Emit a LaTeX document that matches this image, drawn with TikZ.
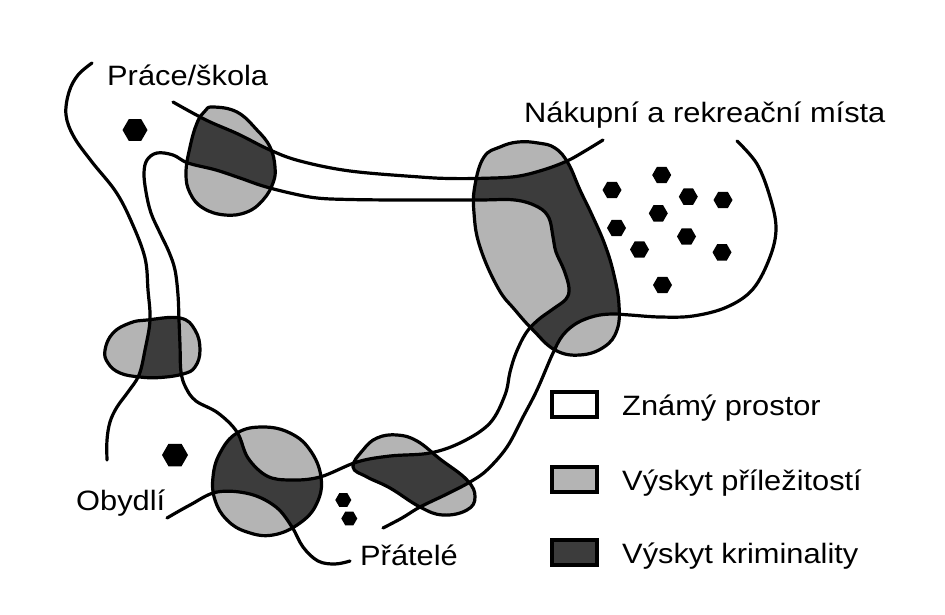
\documentclass[tikz,border=0pt]{standalone}
\usepackage{fontspec}
\setmainfont{Liberation Sans}[FakeStretch=1.1]
\usetikzlibrary{shapes.geometric}
\definecolor{lightg}{RGB}{180,180,180}
\definecolor{darkg}{RGB}{60,60,60}
% lines
\def\Lone{plot[smooth,tension=0.6] coordinates {(603,140) (585,151) (567,161) (543,170) (516,176.5) (483,178.3) (450,178.5) (420,177) (350,171) (300,161) (270,150) (238,134) (206,120) (173,102)}}
\def\Ltwo{plot[smooth cycle,tension=0.6] coordinates {(157,153) (173,155) (188,163) (216,170) (240,178) (263,186) (290,193) (317,198) (350,199.5) (400,200) (477,200) (515,200) (538,207) (549,218) (553,237) (556,252) (564,270) (569,288) (566,299) (553,309) (538,320) (526,333) (516,353) (510,372) (505,395) (490,423) (462,442) (430,453) (390,456) (357,462) (320,477) (290,480) (267,476) (248,458) (237,432) (218,413) (196,401) (186,388) (181,372) (180,345) (179,320) (178,295) (175,270) (169,252) (160,233) (151,213) (146,192) (144,173) (147,160)}}
\def\Lthree{plot[smooth,tension=0.6] coordinates {(383,528) (402,518) (420,507) (447,494) (470,482) (487,470) (507,447) (523,417) (537,390) (553,353) (563,335) (577,323) (595,316) (612,314) (630,315) (660,317) (693,316) (727,307) (753,289) (770,257) (776,228) (770,197) (757,164) (737,141)}}
\def\Lfour{plot[smooth,tension=0.6] coordinates {(92,63) (78,75) (69,92) (66,115) (74,137) (92,162) (116,192) (132,223) (145,258) (148,290) (150,320) (145,350) (139,375) (128,392) (117,407) (110,422) (107,440) (107,460)}}
\def\Lfive{plot[smooth,tension=0.6] coordinates {(167,518) (190,505) (217,492) (250,494) (276,507) (292,527) (303,547) (318,561) (335,564) (350,561)}}
\edef\Kouter{\Lfour -- \Lfive -- \Lthree -- \Lone -- cycle}
% blobs
\def\Pblob{plot[smooth cycle,tension=0.7] coordinates {(213,107) (237,112) (257,130) (270,147) (275,167) (273,183) (263,200) (247,212) (225,215) (203,208) (190,193) (186,173) (190,147) (197,123) (205,111)}}
\def\Nblob{plot[smooth cycle,tension=0.7] coordinates {(484,157) (500,147) (518,142) (538,143) (555,148) (568,163) (580,190) (592,215) (605,245) (614,275) (619,305) (617,330) (604,347) (580,355) (555,350) (533,330) (515,310) (498,288) (480,247) (474,213) (475,185)}}
\def\Eblob{plot[smooth cycle,tension=0.7] coordinates {(105,350) (113,333) (130,323) (147,320) (180,318) (195,330) (200,350) (195,367) (183,374) (160,377.5) (140,377) (120,373) (108,363)}}
\def\Hblob{plot[smooth cycle,tension=0.7] coordinates {(263,427) (290,433) (310,450) (321,477) (317,503) (300,523) (273,535) (247,532) (227,520) (215,500) (213,477) (220,453) (237,433)}}
\def\Fblob{plot[smooth cycle,tension=0.7] coordinates {(353,467) (363,450) (377,438) (397,435) (417,441) (440,459) (467,480) (475,497) (467,510) (443,515) (420,507) (390,488) (367,477)}}
\begin{document}
\begin{tikzpicture}[x=1pt,y=-1pt,
  trail/.style={line width=3.2pt, line cap=round, line join=round},
  hexa/.style={regular polygon, regular polygon sides=6, fill=black, inner sep=0pt, outer sep=0pt, minimum size=#1},
  hexa/.default=19,
  lbl/.style={anchor=base west, inner sep=0pt, font=\fontsize{28}{33}\selectfont},
  legbox/.style={draw, line width=3.2pt, minimum width=45pt, minimum height=25pt, inner sep=0pt},
]
\useasboundingbox (0,0) rectangle (945,614);
\fill[white] (0,0) rectangle (945,614);
% light fill of the regions
\fill[lightg] \Pblob;
\fill[lightg] \Nblob;
\fill[lightg] \Eblob;
\fill[lightg] \Hblob;
\fill[lightg] \Fblob;
% dark part: inside the known space
\begin{scope}
  \clip \Kouter;
  \fill[darkg] \Pblob;
  \fill[darkg] \Nblob;
  \fill[darkg] \Eblob;
  \fill[darkg] \Hblob;
  \fill[darkg] \Fblob;
\end{scope}
\begin{scope}
  \clip \Ltwo;
  \fill[lightg] \Pblob;
  \fill[lightg] \Nblob;
  \fill[lightg] \Eblob;
  \fill[lightg] \Hblob;
  \fill[lightg] \Fblob;
\end{scope}
% lines
\draw[trail] \Lone;
\draw[trail] \Ltwo;
\draw[trail] \Lthree;
\draw[trail] \Lfour;
\draw[trail] \Lfive;
% outlines
\draw[trail] \Pblob;
\draw[trail] \Nblob;
\draw[trail] \Eblob;
\draw[trail] \Hblob;
\draw[trail] \Fblob;
% hexagons
\node[hexa=25] (h1) at (135,130) {};
\node[hexa=26] (h2) at (175,455) {};
\node[hexa=16] (h3) at (343.3,500) {};
\node[hexa=16] (h4) at (349.3,518.5) {};
\node[hexa] (h5) at (661.7,175) {};
\node[hexa] (h6) at (612,190) {};
\node[hexa] (h7) at (688.3,196.7) {};
\node[hexa] (h8) at (723,200) {};
\node[hexa] (h9) at (658.3,213.3) {};
\node[hexa] (h10) at (616.5,228) {};
\node[hexa] (h11) at (686.5,236.5) {};
\node[hexa] (h12) at (639.5,249.5) {};
\node[hexa] (h13) at (722,252.3) {};
\node[hexa] (h14) at (662.5,285) {};
% labels
\node[lbl] (t1) at (107,85) {Práce/škola};
\node[lbl] (t2) at (524,122) {Nákupní a rekreační místa};
\node[lbl] (t3) at (76,510) {Obydlí};
\node[lbl] (t4) at (360,565) {Přátelé};
% legend
\node[legbox, fill=white] (k1) at (574.5,404.5) {};
\node[legbox, fill=lightg] (k2) at (574.5,479.5) {};
\node[legbox, fill=darkg] (k3) at (574.5,552.5) {};
\node[lbl] (t5) at (622,415) {Známý prostor};
\node[lbl] (t6) at (622,490) {Výskyt příležitostí};
\node[lbl] (t7) at (622,563) {Výskyt kriminality};
\end{tikzpicture}
\end{document}
